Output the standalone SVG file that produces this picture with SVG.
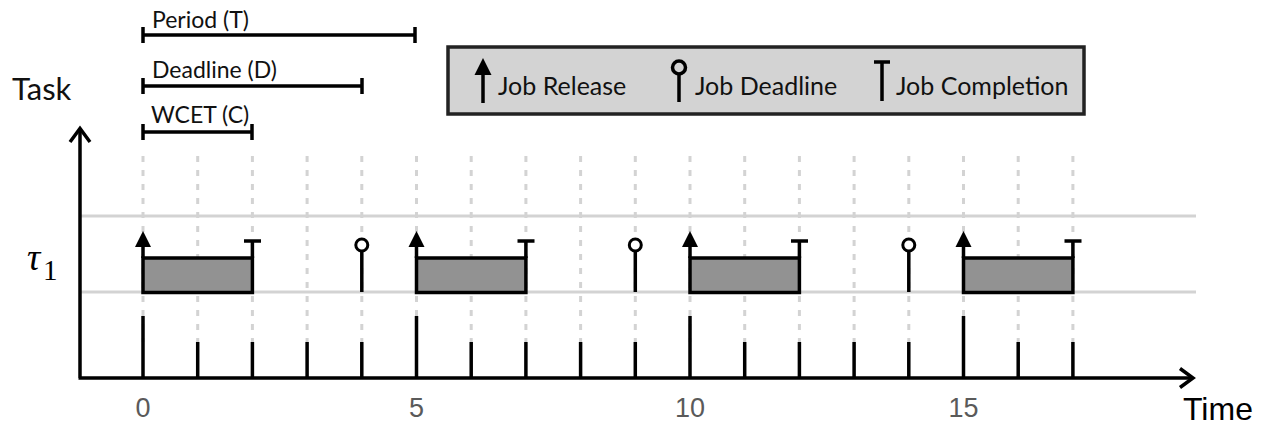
<svg xmlns="http://www.w3.org/2000/svg" width="1270" height="427" viewBox="0 0 1270 427">
<style>
.lbl{font-family:Lato,"Open Sans","Liberation Sans",sans-serif;fill:#111}
.num{font-family:"Liberation Sans",Arial,sans-serif;font-size:27px;fill:#5a5a5a;text-anchor:middle}
.blk{stroke:#000;stroke-width:3.5;fill:none}
.grid{stroke:#d3d3d3;stroke-width:3;fill:none}
.dash{stroke:#d3d3d3;stroke-width:3;stroke-dasharray:6 8;fill:none}
.job{fill:#929292;stroke:#000;stroke-width:3.5}
.dl{fill:#fff;stroke:#000;stroke-width:3}
</style>
<rect width="1270" height="427" fill="#fff"/>

<g id="grid">
<line class="grid" x1="81" y1="216" x2="1196" y2="216"/>
<line class="grid" x1="81" y1="292" x2="1196" y2="292"/>
<path class="dash" d="M143 156V342M197.7 156V342M252.4 156V342M307.1 156V342M361.8 156V342M416.5 156V342M471.2 156V342M525.9 156V342M580.6 156V342M635.3 156V342M690 156V342M744.7 156V342M799.4 156V342M854.1 156V342M908.8 156V342M963.5 156V342M1018.2 156V342M1072.9 156V342"/>
</g>

<g id="axes">
<path class="blk" d="M80 378V129M78.5 378H1192"/>
<polyline class="blk" points="70,142 80,128.5 90,142"/>
<polyline class="blk" points="1180,368.5 1193,378 1180,387.5"/>
<path class="blk" d="M143 316V378M416.5 316V378M690 316V378M963.5 316V378"/>
<path class="blk" d="M197.7 342V378M252.4 342V378M307.1 342V378M361.8 342V378M471.2 342V378M525.9 342V378M580.6 342V378M635.3 342V378M744.7 342V378M799.4 342V378M854.1 342V378M908.8 342V378M1018.2 342V378M1072.9 342V378"/>
</g>

<g id="labels">
<text class="lbl" x="12" y="100" font-size="31">Task</text>
<text x="27" y="270" font-family="'Liberation Serif',serif" font-style="italic" font-size="37" fill="#000">τ</text>
<text x="43" y="280" font-family="'Liberation Serif',serif" font-size="29" fill="#000">1</text>
<text class="num" x="143" y="417">0</text>
<text class="num" x="416.5" y="417">5</text>
<text class="num" x="690" y="417">10</text>
<text class="num" x="963.5" y="417">15</text>
<text x="1183" y="420" font-family="'Liberation Sans',Arial,sans-serif" font-size="32" fill="#000">Time</text>
</g>

<g id="param-period">
<path class="blk" d="M143 35H415M143 27V43M415 27V43"/>
<text class="lbl" x="152" y="28" font-size="23">Period (T)</text>
</g>
<g id="param-deadline">
<path class="blk" d="M143 86H362M143 78V94M362 78V94"/>
<text class="lbl" x="152" y="78" font-size="23">Deadline (D)</text>
</g>
<g id="param-wcet">
<path class="blk" d="M143 132H252M143 124V140M252 124V140"/>
<text class="lbl" x="151" y="123" font-size="23">WCET (C)</text>
</g>

<g id="legend">
<rect x="448" y="47" width="636" height="67" fill="#d3d3d3" stroke="#222" stroke-width="3.5"/>
<line class="blk" x1="483" y1="103" x2="483" y2="74"/>
<polygon points="474.5,75 483,58 491.5,75" fill="#000"/>
<text class="lbl" x="498" y="95" font-size="25">Job Release</text>
<line class="blk" x1="679" y1="75" x2="679" y2="102"/>
<circle cx="679" cy="67.5" r="6.5" fill="#d3d3d3" stroke="#000" stroke-width="3.5"/>
<text class="lbl" x="695" y="95" font-size="25">Job Deadline</text>
<path class="blk" d="M882 62V101M874 62H890"/>
<text class="lbl" x="896" y="95" font-size="25">Job Completion</text>
</g>

<g id="job1">
<rect class="job" x="143" y="258" width="109.4" height="34.5"/>
<line class="blk" x1="143" y1="258" x2="143" y2="246"/>
<polygon points="135,247 143,231 151,247" fill="#000"/>
<path class="blk" d="M252.4 258V241M244 241H261"/>
</g>
<g id="deadline1">
<line class="blk" x1="361.8" y1="251" x2="361.8" y2="292"/>
<circle class="dl" cx="361.8" cy="245" r="6"/>
</g>
<g id="job2">
<rect class="job" x="416.5" y="258" width="109.4" height="34.5"/>
<line class="blk" x1="416.5" y1="258" x2="416.5" y2="246"/>
<polygon points="408.5,247 416.5,231 424.5,247" fill="#000"/>
<path class="blk" d="M525.9 258V241M517.5 241H534.5"/>
</g>
<g id="deadline2">
<line class="blk" x1="635.3" y1="251" x2="635.3" y2="292"/>
<circle class="dl" cx="635.3" cy="245" r="6"/>
</g>
<g id="job3">
<rect class="job" x="690" y="258" width="109.4" height="34.5"/>
<line class="blk" x1="690" y1="258" x2="690" y2="246"/>
<polygon points="682,247 690,231 698,247" fill="#000"/>
<path class="blk" d="M799.4 258V241M791 241H808"/>
</g>
<g id="deadline3">
<line class="blk" x1="908.8" y1="251" x2="908.8" y2="292"/>
<circle class="dl" cx="908.8" cy="245" r="6"/>
</g>
<g id="job4">
<rect class="job" x="963.5" y="258" width="109.4" height="34.5"/>
<line class="blk" x1="963.5" y1="258" x2="963.5" y2="246"/>
<polygon points="955.5,247 963.5,231 971.5,247" fill="#000"/>
<path class="blk" d="M1072.9 258V241M1064.5 241H1081.5"/>
</g>
</svg>
